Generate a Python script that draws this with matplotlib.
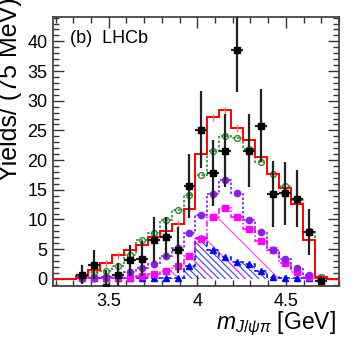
import matplotlib
matplotlib.use("Agg")
import matplotlib.pyplot as plt
import numpy as np
from matplotlib.ticker import FixedLocator, MultipleLocator

plt.rcParams["font.family"] = ["Liberation Sans", "DejaVu Sans"]
plt.rcParams["mathtext.fontset"] = "custom"
plt.rcParams["mathtext.rm"] = "Liberation Sans"
plt.rcParams["mathtext.it"] = "Liberation Sans:italic"
plt.rcParams["hatch.linewidth"] = 0.8

# 21 bins in m(J/psi pi)
bin_edges = np.linspace(3.316, 4.730, 22)

# total fit (red)
fit_total = [0.5, 1.5, 2.6, 4.0, 4.9, 5.7, 7.1, 8.1, 9.3, 11.8, 21.1,
             27.2, 28.4, 25.4, 23.4, 20.5, 17.7, 15.3, 12.6, 6.5, 0.3]

# data (black)
data_y = [0.7, 2.4, -1.3, 0.7, 3.1, 3.4, 6.6, 7.0, 4.9, 15.7, 25.1,
          17.8, 21.6, 38.5, 21.6, 25.8, 14.3, 14.4, 13.5, 7.9, -0.3]
data_err = [1.6, 2.4, 2.8, 2.0, 2.6, 3.0, 3.8, 3.5, 3.9, 5.4, 6.5,
            5.6, 6.1, 7.0, 6.1, 6.2, 5.5, 5.3, 4.8, 3.8, 0.7]

# component histograms
comp_green = [0.5, 1.1, 1.4, 2.2, 4.0, 6.6, 7.8, 9.9, 11.6, 14.1, 17.5,
              21.5, 24.1, 23.7, 21.9, 19.6, 17.7, 15.7, 13.2, 8.1, 0.3]
comp_purple = [0.2, 0.2, 0.3, 0.7, 1.2, 1.8, 2.5, 3.8, 5.2, 7.8, 10.8,
               14.3, 16.6, 14.4, 9.9, 7.9, 4.8, 3.4, 1.9, 0.6, 0.1]
comp_magenta = [0.1, 0.1, 0.1, 0.2, 0.2, 0.4, 0.8, 1.4, 2.1, 3.9, 6.7,
                10.4, 12.0, 10.4, 8.4, 6.4, 4.8, 2.6, 1.1, 0.3, 0.1]
comp_blue = [0.1, 0.1, 0.1, 0.1, 0.1, 0.1, 0.1, 0.1, 0.2, 2.2, 6.9,
             4.8, 3.6, 2.8, 2.5, 1.4, 0.3, 0.1, 0.1, 0.1, 0.1]

x_ticks = [3.5, 4.0, 4.5]
x_tick_labels = ["3.5", "4", "4.5"]
y_ticks = [0, 5, 10, 15, 20, 25, 30, 35, 40]

fig = plt.figure(figsize=(3.53, 3.41), dpi=100)
ax = fig.add_axes([53 / 353, 1 - 286 / 341, 286 / 353, 269 / 341])

xlo, xhi = 3.185, 4.80
centers = 0.5 * (bin_edges[:-1] + bin_edges[1:])
half_w = 0.5 * (bin_edges[1] - bin_edges[0])

# hatched fills
ax.stairs(comp_blue, bin_edges, fill=True, facecolor="none", edgecolor="#3b3bff",
          hatch="\\\\\\\\\\", linewidth=0, zorder=1)
ax.stairs(comp_magenta, bin_edges, fill=True, facecolor="none", edgecolor="#ff44ff",
          hatch="\\", linewidth=0, zorder=1)

# component lines
ax.stairs(comp_blue, bin_edges, color="#0000ff", linestyle=(0, (3, 2)), linewidth=1.1, zorder=3)
ax.plot(centers, comp_blue, linestyle="none", marker="^", markersize=4.5, color="#0000ff", zorder=3)

ax.stairs(comp_magenta, bin_edges, color="#ff00ff", linestyle=(0, (4, 1.5, 1, 1.5)), linewidth=1.1, zorder=3)
ax.plot(centers, comp_magenta, linestyle="none", marker="s", markersize=4.5, color="#ff00ff", zorder=3)

ax.stairs(comp_purple, bin_edges, color="#8b1ee8", linestyle=(0, (1.5, 1.2)), linewidth=1.2, zorder=3)
ax.plot(centers, comp_purple, linestyle="none", marker="o", markersize=4.5, color="#8b1ee8", zorder=3)

ax.stairs(comp_green, bin_edges, color="#2e8b2e", linestyle=(0, (1.5, 1.2)), linewidth=1.2, zorder=4)
ax.plot(centers, comp_green, linestyle="none", marker="o", markersize=4.2, markerfacecolor="none",
        markeredgecolor="#2e8b2e", markeredgewidth=1.0, zorder=4)

# total fit, including zero outside the fitted range
red_edges = np.concatenate([[xlo], bin_edges, [xhi]])
red_vals = np.concatenate([[0.0], fit_total, [0.0]])
ax.stairs(red_vals, red_edges, color="#ff0000", linewidth=1.4, zorder=5)
ax.errorbar(centers, fit_total, yerr=0.6, fmt="none", ecolor="#ff7070", elinewidth=1.0, zorder=5)

# data
ax.errorbar(centers, data_y, yerr=data_err, xerr=half_w, fmt="s", color="black",
            ecolor="#222222", elinewidth=1.6, markersize=4.8, capsize=0, zorder=6)

ax.set_xlim(xlo, xhi)
ax.set_ylim(-1.2, 44.1)

ax.xaxis.set_major_locator(FixedLocator(x_ticks))
ax.set_xticklabels(x_tick_labels)
ax.xaxis.set_minor_locator(MultipleLocator(0.1))
ax.yaxis.set_major_locator(FixedLocator(y_ticks))
ax.yaxis.set_minor_locator(MultipleLocator(1))

ax.tick_params(which="both", direction="in", top=True, right=True, color="#333333",
               width=1.0, labelsize=13)
ax.tick_params(which="major", length=8)
ax.tick_params(which="minor", length=4)
ax.tick_params(axis="x", pad=5)
ax.tick_params(axis="y", pad=4)
for sp in ax.spines.values():
    sp.set_linewidth(1.3)
    sp.set_color("#444444")

ax.text(0.059, 0.903, "(b)  LHCb", transform=ax.transAxes, fontsize=13, va="baseline", ha="left")

fig.text(336 / 353, 1 - 329 / 341, r"$m_{J/\psi\pi}$ [GeV]", fontsize=16.5, ha="right", va="baseline")
fig.text(-2 / 353, 1 + 3 / 341, "Yields/ (75 MeV)", fontsize=18, rotation=90, ha="left", va="top")

fig.savefig("out.png", dpi=100)
